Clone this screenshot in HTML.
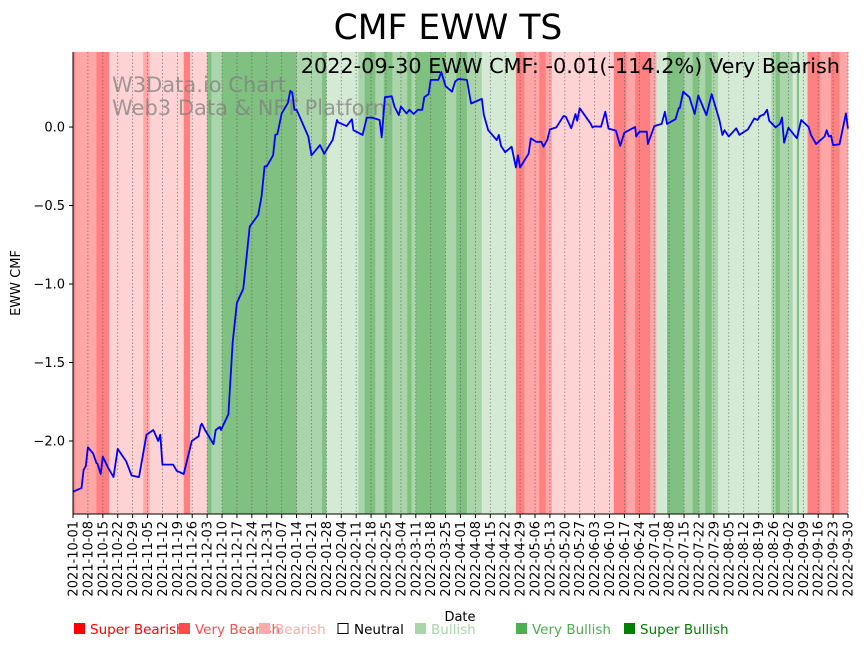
<!DOCTYPE html>
<html><head><meta charset="utf-8"><style>
body{margin:0;background:#fff;width:864px;height:646px;overflow:hidden;font-family:"DejaVu Sans","Liberation Sans",sans-serif}
svg text{font-family:"DejaVu Sans","Liberation Sans",sans-serif}
</style></head><body>
<svg id="chart" width="864" height="646" xmlns="http://www.w3.org/2000/svg">
<text x="448" y="39" font-size="34.5" text-anchor="middle">CMF EWW TS</text>
<g id="bands"></g>
<g id="grid"></g>
<text x="112" y="92" font-size="21" fill="#808080" fill-opacity="0.75">W3Data.io Chart</text>
<text x="112" y="115" font-size="21" fill="#808080" fill-opacity="0.75">Web3 Data &amp; NFT Platform</text>
<g id="line"></g>
<text x="840" y="73" font-size="20.8" text-anchor="end">2022-09-30 EWW CMF: -0.01(-114.2%) Very Bearish</text>
<g id="axes"></g>
<text transform="translate(20,283) rotate(-90)" font-size="13" text-anchor="middle">EWW CMF</text>
<text x="460" y="621" font-size="13" text-anchor="middle">Date</text>
<g id="legend"></g>
</svg>
<script>
// data
const startDate = "2021-10-01";
const bandStart = [0,1,11,17,33,36,52,55,63,65,70,105,117,119,134,137,142,146,150,157,159,161,175,180,185,192,208,212,219,222,225,254,260,264,271,274,279,287,291,294,297,300,303,328,330,332,338,340,341,345,351,356,360];
const bandCat   = [-3,-2,-3,-1,-2,-1,-3,-1,3,2,3,2,3,1,2,3,2,3,2,3,2,3,2,3,2,1,-3,-2,-3,-2,-1,-3,-2,-3,-2,1,3,2,3,2,3,2,1,2,3,2,1,3,1,-3,-2,-3,-2];
const days = [0,4,5,6,7,9.5,11,11.5,13,14,16.5,19,21,25,27.5,31,34.5,37.7,40,41,42,47,48.7,52,55.8,59,60,60.5,62,66,67,69,69.5,73,75,77,80,83,87,88.6,90,91,94,95,96,98,101,102,103,104,105,110.5,112,116,118,122,124,124.5,128.5,131,131.7,136,138,140.5,144,145,146.5,149.7,151,153,154,156.7,158,160,162,164,165,167,168,171.6,173,175,178,179.5,181,185,187,192,193,195,199,200,201,203,206,208,209,210,214,215,217.5,220,221,222.8,224,227,228.7,230.4,231.5,234,236,236.8,238,243,244,245,248,250,251.5,255,257,259,264,264.5,266,269.5,270,273,276.5,278,279,283,284.5,285,286.6,289.5,292,293.7,297.5,300,303.6,305,306,308,311.5,313,317,320,321.5,322.7,324.5,326,327,330,332,333,334,336,340,342,345.5,346.6,349,353,354,355,356,357,360,363,364];
const cmf = [-2.323,-2.30,-2.185,-2.16,-2.04,-2.08,-2.14,-2.145,-2.21,-2.10,-2.17,-2.23,-2.05,-2.13,-2.22,-2.23,-1.96,-1.93,-2.00,-1.96,-2.15,-2.15,-2.19,-2.21,-2.00,-1.97,-1.90,-1.89,-1.93,-2.02,-1.93,-1.91,-1.93,-1.83,-1.37,-1.12,-1.03,-0.635,-0.56,-0.44,-0.25,-0.25,-0.18,-0.05,-0.045,0.087,0.155,0.23,0.22,0.11,0.11,-0.06,-0.18,-0.115,-0.17,-0.08,0.045,0.03,0.006,0.05,-0.02,-0.05,0.06,0.06,0.045,-0.066,0.19,0.196,0.13,0.076,0.13,0.087,0.11,0.083,0.11,0.11,0.19,0.21,0.30,0.30,0.35,0.26,0.225,0.29,0.306,0.30,0.15,0.18,0.076,-0.02,-0.083,-0.05,-0.12,-0.16,-0.125,-0.257,-0.18,-0.257,-0.17,-0.072,-0.094,-0.094,-0.125,-0.08,-0.015,-0.002,0.034,0.07,0.065,-0.008,0.083,0.04,0.12,0.024,-0.003,0.005,0.002,0.097,-0.01,-0.023,-0.12,-0.036,0.0,-0.06,-0.03,-0.03,-0.108,0.006,0.02,0.097,0.02,0.05,0.12,0.12,0.225,0.19,0.083,0.2,0.076,0.21,0.045,-0.05,-0.02,-0.06,-0.008,-0.05,-0.015,0.055,0.045,0.07,0.08,0.11,0.04,-0.002,0.02,0.06,-0.1,-0.005,-0.072,0.045,0.0,-0.05,-0.108,-0.06,-0.02,-0.06,-0.055,-0.115,-0.11,0.087,-0.01];
const yTicks = [0,-0.5,-1,-1.5,-2];
const yTickLabels = ["0.0","\u22120.5","\u22121.0","\u22121.5","\u22122.0"];
const legendLabels = ["Super Bearish","Very Bearish","Bearish","Neutral","Bullish","Very Bullish","Super Bullish"];
const legendColors = ["#ff0000","#ff4d4d","#ffaaaa","#000000","#aad5aa","#4caf50","#008000"];

const NS="http://www.w3.org/2000/svg";
const X0=73,X1=848,Y0=52,Y1=514,DMAX=364,VMAX=0.478,VMIN=-2.465;
const xs=d=>X0+d*(X1-X0)/DMAX;
const ys=v=>Y0+(VMAX-v)*(Y1-Y0)/(VMAX-VMIN);
const catColor={"-3":"#ff8080","-2":"#ffa6a6","-1":"#ffd3d3","0":"#ffffff","1":"#d5ead5","2":"#aad5aa","3":"#80c080"};
function mk(tag,attrs,parent){const e=document.createElementNS(NS,tag);for(const k in attrs)e.setAttribute(k,attrs[k]);parent.appendChild(e);return e;}

const bands=document.getElementById('bands');
for(let i=0;i<bandStart.length;i++){
  const s=bandStart[i], e=i+1<bandStart.length?bandStart[i+1]:DMAX;
  const r=mk('rect',{x:xs(s),y:Y0,width:xs(e)-xs(s)+0.3,height:Y1-Y0,fill:catColor[bandCat[i]]},bands);
  
  
}
const grid=document.getElementById('grid'), axes=document.getElementById('axes');
const base=new Date(startDate+"T00:00:00Z");
for(let d=0;d<=DMAX;d+=7){
  const x=xs(d);
  const gl=mk('line',{x1:x,x2:x,y1:Y0,y2:Y1,stroke:"#555",'stroke-width':0.8,'stroke-dasharray':"1.5,2",'stroke-opacity':0.7},grid);
  
  
  mk('line',{x1:x,x2:x,y1:Y1,y2:Y1+4,stroke:"#000",'stroke-width':1},axes);
  const dt=new Date(base.getTime()+d*86400000).toISOString().slice(0,10);
  const t=mk('text',{transform:`translate(${x+4.5},${Y1+7}) rotate(-90)`,'font-size':13,'text-anchor':'end'},axes);
  
  
  t.textContent=dt;
}
yTicks.forEach((v,i)=>{
  const y=ys(v);
  mk('line',{x1:X0-4,x2:X0,y1:y,y2:y,stroke:"#000"},axes);
  const t=mk('text',{x:X0-8,y:y+4.5,'font-size':13,'text-anchor':'end'},axes);
  
  
  t.textContent=yTickLabels[i];
});
mk('line',{x1:X0,x2:X0,y1:Y0,y2:Y1,stroke:"#000",'stroke-width':1},axes);
mk('line',{x1:X0,x2:X1,y1:Y1,y2:Y1,stroke:"#000",'stroke-width':1},axes);

const pts=days.map((d,i)=>xs(d).toFixed(1)+","+ys(cmf[i]).toFixed(1)).join(" ");
const pl=mk('polyline',{points:pts,fill:"none",stroke:"#0000ff",'stroke-width':1.8,'stroke-linejoin':'round'},document.getElementById('line'));



const legend=document.getElementById('legend');
const legendX=[73,178,258,337,414,515,623];
legendLabels.forEach((lab,i)=>{
  const g=mk('g',{},legend);
  
  
  const x=legendX[i];
  if(i===3) mk('rect',{x:x+1,y:623.5,width:10,height:10,fill:"#fff",stroke:"#000",'stroke-width':1},g);
  else mk('rect',{x:x+1,y:623,width:11,height:11,fill:legendColors[i]},g);
  const t=mk('text',{x:x+17,y:634,'font-size':13.5,fill:legendColors[i]},g);
  t.textContent=lab;
});
</script>
</body></html>
